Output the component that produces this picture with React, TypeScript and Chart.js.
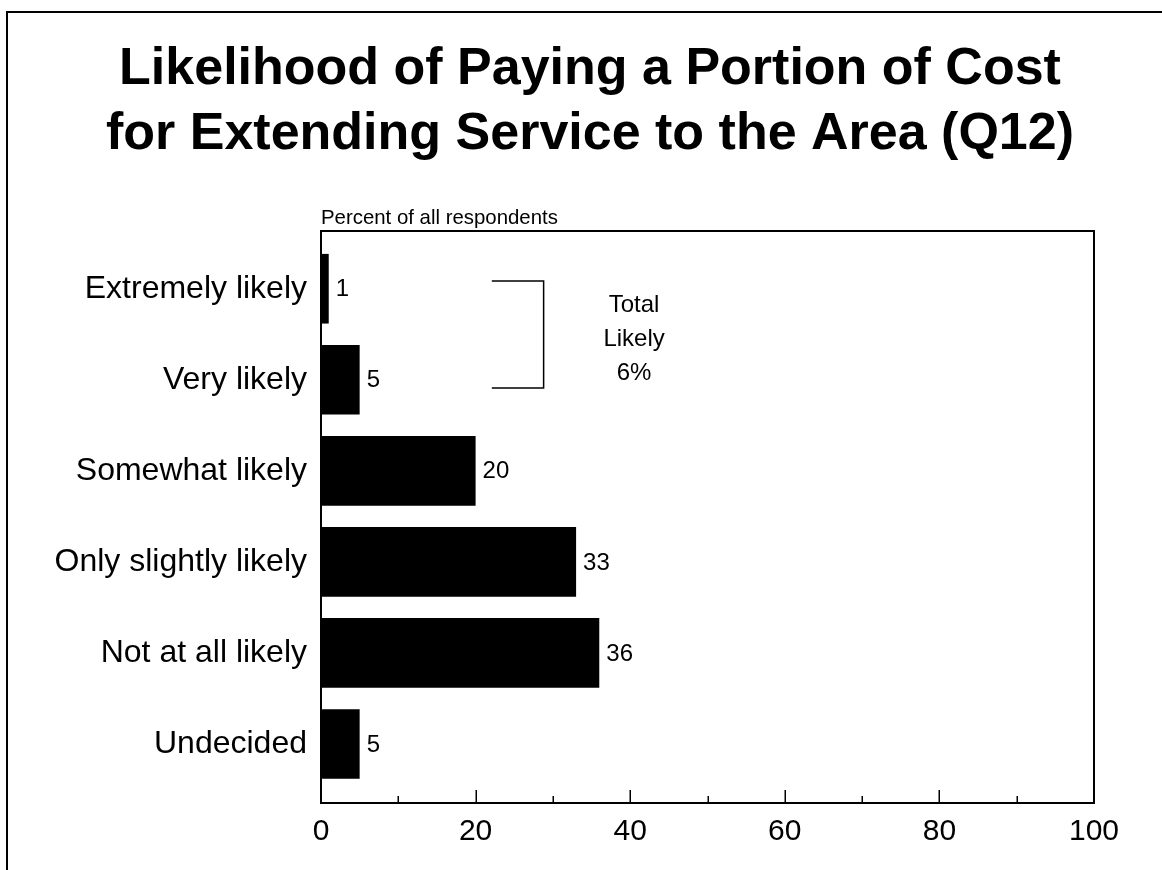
import React, { useEffect, useRef } from 'react';
import { Chart, registerables } from 'chart.js';

Chart.register(...registerables);

const categories = [
  'Extremely likely',
  'Very likely',
  'Somewhat likely',
  'Only slightly likely',
  'Not at all likely',
  'Undecided',
];
const values = [1, 5, 20, 33, 36, 5];
const xMajorTicks = [20, 40, 60, 80];
const xMinorTicks = [10, 30, 50, 70, 90];
const titleLines = [
  'Likelihood of Paying a Portion of Cost',
  'for Extending Service to the Area (Q12)',
];
const axisCaption = 'Percent of all respondents';
const noteLines = ['Total', 'Likely', '6%'];

const FONT = '"Liberation Sans", Arial, Helvetica, sans-serif';

const innerTicksPlugin = {
  id: 'innerTicks',
  afterDraw(chart: any) {
    const { ctx, chartArea } = chart;
    const xs = chart.scales.x;
    ctx.save();
    ctx.strokeStyle = '#000';
    ctx.lineWidth = 1.5;
    const draw = (v: number, len: number) => {
      const px = Math.round(xs.getPixelForValue(v)) + 0.25;
      ctx.beginPath();
      ctx.moveTo(px, chartArea.bottom);
      ctx.lineTo(px, chartArea.bottom - len);
      ctx.stroke();
    };
    xMajorTicks.forEach((v) => draw(v, 13));
    xMinorTicks.forEach((v) => draw(v, 7));
    ctx.restore();
  },
};

const valueLabelsPlugin = {
  id: 'valueLabels',
  afterDatasetsDraw(chart: any) {
    const { ctx } = chart;
    const meta = chart.getDatasetMeta(0);
    ctx.save();
    ctx.fillStyle = '#000';
    ctx.font = `24px ${FONT}`;
    ctx.textAlign = 'left';
    ctx.textBaseline = 'middle';
    meta.data.forEach((bar: any, i: number) => {
      ctx.fillText(String(values[i]), bar.x + 7, bar.y + 1);
    });
    ctx.restore();
  },
};

const bracketPlugin = {
  id: 'bracketNote',
  afterDatasetsDraw(chart: any) {
    const { ctx } = chart;
    const xs = chart.scales.x;
    const ys = chart.scales.y;
    const x1 = xs.getPixelForValue(22.1);
    const x2 = xs.getPixelForValue(28.8);
    const y1 = ys.getPixelForValue(-0.085);
    const y2 = ys.getPixelForValue(1.09);
    ctx.save();
    ctx.strokeStyle = '#000';
    ctx.lineWidth = 1.5;
    ctx.beginPath();
    ctx.moveTo(x1, y1);
    ctx.lineTo(x2, y1);
    ctx.lineTo(x2, y2);
    ctx.lineTo(x1, y2);
    ctx.stroke();
    ctx.fillStyle = '#000';
    ctx.font = `24px ${FONT}`;
    ctx.textAlign = 'center';
    ctx.textBaseline = 'middle';
    const cx = xs.getPixelForValue(40.5);
    const cy = ys.getPixelForValue(0.56);
    noteLines.forEach((t, i) => {
      ctx.fillText(t, cx, cy + (i - 1) * 34);
    });
    ctx.restore();
  },
};

export default function App() {
  const canvasRef = useRef<HTMLCanvasElement | null>(null);

  useEffect(() => {
    const canvas = canvasRef.current;
    if (!canvas) return;
    const borderOpts = { display: true, color: '#000', width: 2 };
    const chart = new Chart(canvas, {
      type: 'bar',
      data: {
        datasets: [
          {
            data: values.map((v, i) => ({ x: v, y: i })),
            backgroundColor: '#000',
            borderWidth: 0,
            categoryPercentage: 1,
            barPercentage: 0.765,
            xAxisID: 'x',
            yAxisID: 'y',
          },
        ],
      },
      options: {
        animation: false,
        responsive: false,
        maintainAspectRatio: false,
        indexAxis: 'y',
        layout: { padding: { left: 20, right: 2, top: 37, bottom: 17 } },
        plugins: {
          legend: { display: false },
          tooltip: { enabled: false },
          title: {
            display: true,
            text: titleLines,
            color: '#000',
            font: { family: FONT, size: 52, weight: 'bold', lineHeight: 1.25 },
            padding: { top: 0, bottom: 33 },
          },
        },
        scales: {
          x: {
            type: 'linear',
            position: 'bottom',
            min: 0,
            max: 100,
            ticks: {
              stepSize: 20,
              color: '#000',
              font: { family: FONT, size: 30 },
              padding: 11,
              maxRotation: 0,
            },
            grid: { display: false, drawTicks: false },
            border: borderOpts,
            afterFit: (s: any) => {
              s.height = 50;
            },
          },
          x2: {
            type: 'linear',
            position: 'top',
            min: 0,
            max: 100,
            ticks: { display: false },
            grid: { display: false, drawTicks: false },
            border: borderOpts,
            title: {
              display: true,
              text: axisCaption,
              align: 'start',
              color: '#000',
              font: { family: FONT, size: 20.4, lineHeight: 1.2 },
              padding: { top: 6, bottom: 1 },
            },
            afterFit: (s: any) => {
              s.height = 31;
            },
          },
          y: {
            type: 'linear',
            position: 'left',
            reverse: true,
            offset: false,
            bounds: 'data',
            grace: 0,
            min: -0.634,
            max: 5.648,
            afterBuildTicks: (s: any) => {
              s.ticks = categories.map((_, i) => ({ value: i }));
            },
            ticks: {
              autoSkip: false,
              callback: (v: any) => categories[v] ?? '',
              color: '#000',
              font: { family: FONT, size: 32 },
              padding: 14,
            },
            grid: { display: false, drawTicks: false },
            border: borderOpts,
            afterFit: (s: any) => {
              s.width = 301;
            },
          },
          y2: {
            type: 'linear',
            position: 'right',
            ticks: { display: false },
            grid: { display: false, drawTicks: false },
            border: borderOpts,
            afterFit: (s: any) => {
              s.width = 66;
            },
          },
        },
      } as any,
      plugins: [innerTicksPlugin, valueLabelsPlugin, bracketPlugin],
    });
    return () => chart.destroy();
  }, []);

  return (
    <div
      style={{
        position: 'absolute',
        left: 0,
        top: 0,
        width: 1162,
        height: 870,
        overflow: 'hidden',
        background: '#fff',
      }}
    >
      <div
        style={{
          position: 'absolute',
          left: 6,
          top: 11,
          width: 2000,
          height: 2000,
          borderLeft: '2px solid #000',
          borderTop: '2px solid #000',
        }}
      />
      <canvas
        ref={canvasRef}
        width={1162}
        height={870}
        style={{ position: 'absolute', left: 0, top: 0, display: 'block' }}
      />
    </div>
  );
}
